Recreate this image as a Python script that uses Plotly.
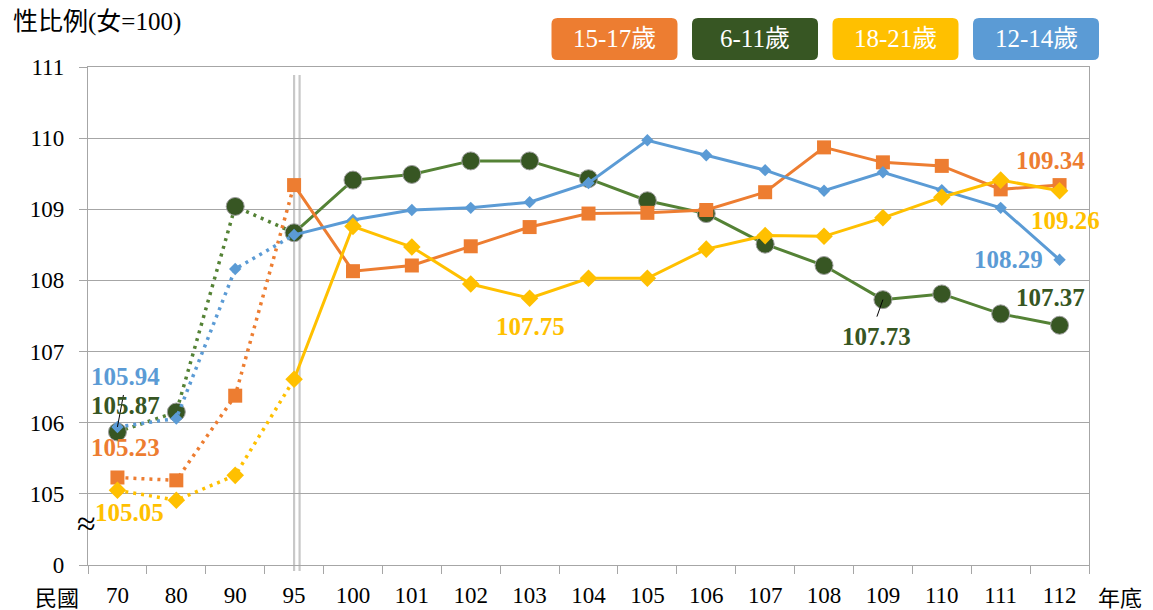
import plotly.graph_objects as go

# ---------------- data ----------------
years = ["70", "80", "90", "95", "100", "101", "102", "103", "104", "105",
         "106", "107", "108", "109", "110", "111", "112"]
age_15_17 = [105.23, 105.19, 106.38, 109.34, 108.13, 108.21, 108.48, 108.75, 108.94,
             108.95, 108.99, 109.24, 109.87, 109.66, 109.61, 109.28, 109.34]
age_6_11 = [105.87, 106.15, 109.04, 108.67, 109.41, 109.49, 109.68, 109.68, 109.43,
            109.12, 108.94, 108.51, 108.21, 107.73, 107.81, 107.53, 107.37]
age_18_21 = [105.05, 104.91, 105.26, 106.61, 108.76, 108.47, 107.95, 107.75, 108.03,
             108.03, 108.44, 108.63, 108.62, 108.88, 109.17, 109.41, 109.26]
age_12_14 = [105.94, 106.06, 108.16, 108.64, 108.85, 108.99, 109.02, 109.10, 109.37,
             109.97, 109.76, 109.55, 109.26, 109.52, 109.27, 109.02, 108.29]
series_names = ["15-17歲", "6-11歲", "18-21歲", "12-14歲"]
y_tickvals = [104, 105, 106, 107, 108, 109, 110, 111]
y_ticktext = ["0", "105", "106", "107", "108", "109", "110", "111"]

# ---------------- styles ----------------
SERIF = "Liberation Serif, Times New Roman, Noto Sans CJK TC, serif"
C_OR, C_GR_LINE, C_GR, C_YE, C_BL = "#ED7D31", "#548235", "#375623", "#FFC000", "#5B9BD5"
GRID = "#A6A6A6"
split = years.index("95")

series = {
    "15-17歲": dict(y=age_15_17, line=C_OR, fill=C_OR, symbol="square", size=14, mline=dict(width=0)),
    "6-11歲": dict(y=age_6_11, line=C_GR_LINE, fill=C_GR, symbol="circle", size=18,
                   mline=dict(width=1, color="#9E9E9E")),
    "18-21歲": dict(y=age_18_21, line=C_YE, fill=C_YE, symbol="diamond", size=13.5, mline=dict(width=0)),
    "12-14歲": dict(y=age_12_14, line=C_BL, fill=C_BL, symbol="diamond", size=9.5, mline=dict(width=0)),
}
draw_order = ["6-11歲", "15-17歲", "12-14歲", "18-21歲"]

fig = go.Figure()
for name in draw_order:
    s = series[name]
    ys = s["y"]
    fig.add_trace(go.Scatter(x=years[:split + 1], y=ys[:split + 1], mode="lines",
                             line=dict(color=s["line"], width=3.5, dash="3px,5px"),
                             showlegend=False, hoverinfo="skip"))
    fig.add_trace(go.Scatter(x=years[:split], y=ys[:split], mode="markers",
                             marker=dict(symbol=s["symbol"], size=s["size"], color=s["fill"], line=s["mline"]),
                             showlegend=False, name=name))
    fig.add_trace(go.Scatter(x=years[split:], y=ys[split:], mode="lines+markers",
                             line=dict(color=s["line"], width=3),
                             marker=dict(symbol=s["symbol"], size=s["size"], color=s["fill"], line=s["mline"]),
                             showlegend=False, name=name))

# ---------------- data labels ----------------
label_specs = [
    ("12-14歲", "70", 8, -50, C_BL),
    ("6-11歲", "70", 8, -26, C_GR),
    ("15-17歲", "70", 8, -30, C_OR),
    ("18-21歲", "70", 12, 22, C_YE),
    ("18-21歲", "103", 1, 28, C_YE),
    ("6-11歲", "109", -6, 37, C_GR),
    ("15-17歲", "112", -9, -25, C_OR),
    ("18-21歲", "112", 6, 30, C_YE),
    ("12-14歲", "112", -51, 0, C_BL),
    ("6-11歲", "112", -9, -28, C_GR),
]
for name, yr, dx, dy, col in label_specs:
    idx = years.index(yr)
    v = series[name]["y"][idx]
    fig.add_annotation(x=idx, y=v, text=f"<b>{v:.2f}</b>", showarrow=False, xshift=dx, yshift=-dy,
                       font=dict(family=SERIF, size=25, color=col))

# leader lines
leaders = [("6-11歲", "70", (0, 5), (6, 37)), ("6-11歲", "109", (0, 0), (-6, -17))]
shapes = []
for name, yr, p0, p1 in leaders:
    idx = years.index(yr)
    v = series[name]["y"][idx]
    shapes.append(dict(type="line", xref="x", yref="y", xsizemode="pixel", ysizemode="pixel",
                       xanchor=idx, yanchor=v, x0=p0[0], y0=p0[1], x1=p1[0], y1=p1[1],
                       line=dict(color="black", width=1), layer="above"))

sep = years.index("95")
for off in (0, 5.5):
    shapes.append(dict(type="line", xref="x", yref="paper", xsizemode="pixel", xanchor=sep,
                       x0=off, x1=off, y0=-0.012, y1=0.984,
                       line=dict(color="#C8C8C8", width=2.2), layer="below"))

# ---------------- geometry (page pixels; the page has an 8px body margin) ----------------
OFF = 8
W, H = 1153 - OFF, 610 - OFF
PLOT_L, PLOT_R, PLOT_T, PLOT_B = 88, 1089, 67, 565
def px_to_paper_x(px):
    return (px - PLOT_L) / (PLOT_R - PLOT_L)
def px_to_paper_y(py):
    return (PLOT_B - py) / (PLOT_B - PLOT_T)

legend_colors = [C_OR, C_GR, C_YE, C_BL]
box_w, box_h, rad = 126, 42, 6
legend_x0, legend_pitch, legend_yc = 614.5, 140.5, 39
w2, h2 = box_w / 2, box_h / 2
path = (f"M {-w2+rad},{-h2} L {w2-rad},{-h2} Q {w2},{-h2} {w2},{-h2+rad} "
        f"L {w2},{h2-rad} Q {w2},{h2} {w2-rad},{h2} L {-w2+rad},{h2} Q {-w2},{h2} {-w2},{h2-rad} "
        f"L {-w2},{-h2+rad} Q {-w2},{-h2} {-w2+rad},{-h2} Z")
for i, (nm, col) in enumerate(zip(series_names, legend_colors)):
    cx = px_to_paper_x(legend_x0 + i * legend_pitch)
    cy = px_to_paper_y(legend_yc)
    shapes.append(dict(type="path", xref="paper", yref="paper", xsizemode="pixel", ysizemode="pixel",
                       xanchor=cx, yanchor=cy, path=path, fillcolor=col, line=dict(width=0)))
    fig.add_annotation(xref="paper", yref="paper", x=cx, y=cy, text=nm, showarrow=False,
                       xanchor="center", yanchor="middle",
                       font=dict(family=SERIF, size=25, color="white"))

fig.add_annotation(xref="paper", yref="paper", x=px_to_paper_x(11), y=px_to_paper_y(22),
                   text="性比例(女=100)", showarrow=False, xanchor="left", yanchor="middle",
                   font=dict(family=SERIF, size=25, color="black"))
fig.add_annotation(xref="paper", yref="paper", x=px_to_paper_x(57), y=px_to_paper_y(598),
                   text="民國", showarrow=False, xanchor="center", yanchor="middle",
                   font=dict(family=SERIF, size=22, color="black"))
fig.add_annotation(xref="paper", yref="paper", x=px_to_paper_x(1120), y=px_to_paper_y(598),
                   text="年底", showarrow=False, xanchor="center", yanchor="middle",
                   font=dict(family=SERIF, size=22, color="black"))
fig.add_annotation(xref="paper", yref="y", x=0, y=104.58, text="≈", showarrow=False,
                   xanchor="center", yanchor="middle", xshift=-2,
                   font=dict(family=SERIF, size=34, color="black"))

fig.update_layout(
    width=W, height=H,
    margin=dict(l=PLOT_L - OFF, r=W - (PLOT_R - OFF), t=PLOT_T - OFF, b=H - (PLOT_B - OFF),
                autoexpand=False),
    paper_bgcolor="white", plot_bgcolor="white",
    showlegend=False, shapes=shapes,
    font=dict(family=SERIF, size=23, color="black"),
    xaxis=dict(type="category", categoryorder="array", categoryarray=years,
               range=[-0.5, len(years) - 0.5], tickson="boundaries", automargin=False,
               ticks="outside", ticklen=8, tickcolor=GRID, tickwidth=1.3,
               showline=True, linecolor=GRID, linewidth=1.3, mirror=True,
               showgrid=False, tickfont=dict(family=SERIF, size=23, color="black"),
               ticklabelstandoff=9),
    yaxis=dict(range=[104, 111], tickvals=y_tickvals, ticktext=y_ticktext, automargin=False,
               ticks="outside", ticklen=8, tickcolor=GRID, tickwidth=1.3,
               showline=True, linecolor=GRID, linewidth=1.3, mirror=True,
               showgrid=True, gridcolor=GRID, gridwidth=1.3, zeroline=False,
               tickfont=dict(family=SERIF, size=23, color="black"),
               ticklabelstandoff=10),
)

fig.write_html("out.html")
